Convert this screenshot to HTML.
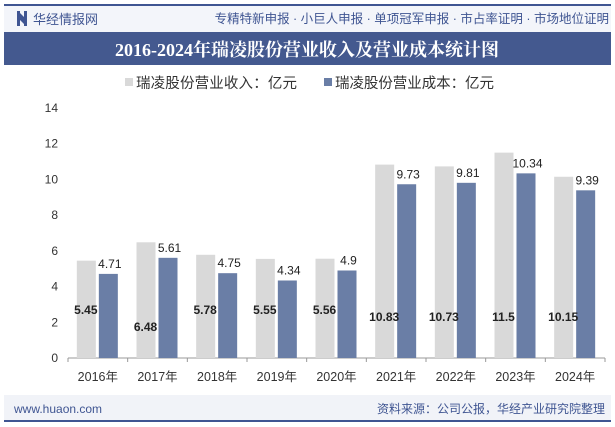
<!DOCTYPE html>
<html><head><meta charset="utf-8">
<style>
body{margin:0;width:615px;height:427px;overflow:hidden;background:#fff;font-family:"Liberation Sans","Noto Sans CJK SC",sans-serif;}
svg{display:block}
</style></head><body>
<svg width="615" height="427" xmlns="http://www.w3.org/2000/svg">
<rect x="4" y="5" width="607" height="27" fill="#f3f5fa"/>
<rect x="4" y="4" width="607" height="2" fill="#3f5592"/>
<rect x="17" y="11" width="3" height="15" fill="#3f5592"/><rect x="24" y="11" width="3" height="15" fill="#3f5592"/><polygon points="20,13 24,17 24,24 20,20" fill="#3f5592"/>
<text x="33" y="24" font-size="13" fill="#3f5592">华经情报网</text>
<text x="609" y="23" font-size="12.5" fill="#3f5592" text-anchor="end">专精特新申报 · 小巨人申报 · 单项冠军申报 · 市占率证明 · 市场地位证明</text>
<rect x="4" y="32" width="607" height="33" fill="#44598f"/>
<text x="307" y="56" font-size="18" font-weight="bold" fill="#fff" text-anchor="middle" font-family="Liberation Serif,Noto Serif CJK SC,serif">2016-2024年瑞凌股份营业收入及营业成本统计图</text>
<rect x="125" y="78" width="8" height="8" fill="#d9d9d9"/>
<text x="136" y="88" font-size="14.5" fill="#333" textLength="161">瑞凌股份营业收入：亿元</text>
<rect x="324" y="78" width="8" height="8" fill="#6a7ea6"/>
<text x="335" y="88" font-size="14.5" fill="#333" textLength="159">瑞凌股份营业成本：亿元</text>
<g id="plot"></g>
<rect x="4" y="395" width="607" height="25" fill="#f1f3f8"/>
<rect x="4" y="420" width="607" height="2" fill="#3f5592"/>
<text x="14" y="413" font-size="12" fill="#3f5592">www.huaon.com</text>
<text x="605" y="413" font-size="12" fill="#3f5592" text-anchor="end">资料来源：公司公报，华经产业研究院整理</text>
</svg>
<script>
const categories=["2016年","2017年","2018年","2019年","2020年","2021年","2022年","2023年","2024年"];
const revenue=[5.45,6.48,5.78,5.55,5.56,10.83,10.73,11.5,10.15];
const cost=[4.71,5.61,4.75,4.34,4.9,9.73,9.81,10.34,9.39];
const yTicks=[0,2,4,6,8,10,12,14];
const NS="http://www.w3.org/2000/svg";
const g=document.getElementById("plot");
const x0=68,x1=605,yb=358,yt=108,ymax=14;
const band=(x1-x0)/categories.length;
const y=v=>yb-(v/ymax)*(yb-yt);
const cx=i=>x0+band*(i+0.5);
function mk(tag,attrs,txt){const e=document.createElementNS(NS,tag);for(const k in attrs)e.setAttribute(k,attrs[k]);if(txt!==undefined)e.textContent=txt;g.appendChild(e);return e;}
yTicks.forEach(t=>{
 const l=mk("text",{x:x0-10,y:y(t)+4,"font-size":12,fill:"#333","text-anchor":"end"},String(t));
 
 
});
const xa=mk("line",{x1:x0,y1:yb,x2:x1,y2:yb,stroke:"#999"});


categories.forEach((c,i)=>{
 const c0=cx(i);
 mk("line",{x1:x0+band*i,y1:yb,x2:x0+band*i,y2:yb+4,stroke:"#999"});
 const r=mk("rect",{x:c0-21,y:y(revenue[i]),width:19,height:yb-y(revenue[i]),fill:"#d9d9d9"});
 
 
 const b=mk("rect",{x:c0+1,y:y(cost[i]),width:19,height:yb-y(cost[i]),fill:"#6a7ea6"});
 
 
 const rl=mk("text",{x:c0-12,y:revenue[i]>8?321:(revenue[i]>6?331:314),"font-size":12,"font-weight":"bold",fill:"#222","text-anchor":"middle"},String(revenue[i]));
 
 
 const cl=mk("text",{x:c0+12,y:y(cost[i])-6,"font-size":12,fill:"#222","text-anchor":"middle"},String(cost[i]));
 
 
 const xl=mk("text",{x:c0,y:yb+23,"font-size":12.5,fill:"#333","text-anchor":"middle"},c);
 
 
});
mk("line",{x1:x1,y1:yb,x2:x1,y2:yb+4,stroke:"#999"});
</script>
</body></html>
